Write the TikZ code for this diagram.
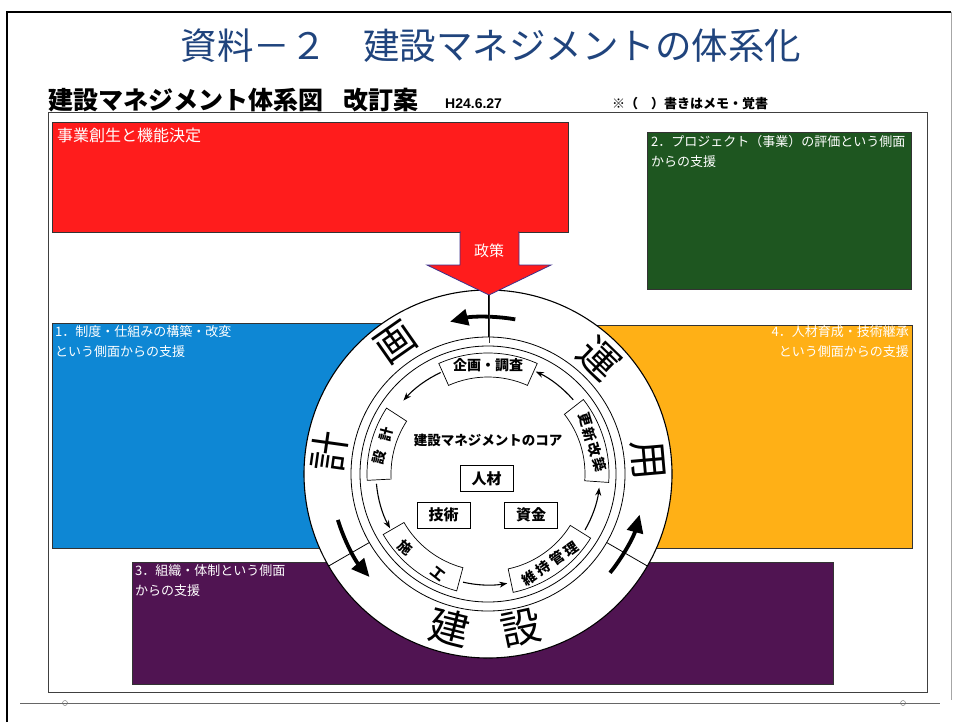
\documentclass[tikz,border=0pt]{standalone}
\usepackage{fontspec}
\setmainfont{Noto Sans CJK JP}
\newfontfamily\lat{Liberation Sans}
\usetikzlibrary{arrows.meta}
\definecolor{titleblue}{RGB}{32,68,125}
\definecolor{boxred}{RGB}{255,28,28}
\definecolor{boxgreen}{RGB}{30,86,32}
\definecolor{boxblue}{RGB}{14,135,212}
\definecolor{boxorange}{RGB}{255,176,22}
\definecolor{boxpurple}{RGB}{80,20,82}
\definecolor{arrowedge}{RGB}{60,50,140}
\tikzset{
  panel/.style={draw=black!80, line width=0.8pt},
  paneltext/.style={text=white, inner sep=0pt, align=left, font=\fontsize{13}{20.5}\selectfont},
  ringchar/.style={font=\fontsize{40}{40}\selectfont, inner sep=0pt},
  lbl/.style={font=\fontsize{14}{14}\selectfont\bfseries, inner sep=0pt},
  corebox/.style={draw, line width=0.8pt, minimum width=53pt, minimum height=26pt, inner sep=0pt, font=\fontsize{15}{15}\selectfont\bfseries},
  bigarrow/.style={line width=3.8pt, -{Triangle[length=18pt,width=16pt]}},
  smallarrow/.style={line width=1.1pt, -{Stealth[length=8pt,width=6pt]}},
}
\newcommand{\lblsector}[2]{%
  \draw[fill=white, line width=0.7pt] (#1:97) arc[start angle=#1,end angle=#2,radius=97] -- (#2:121) arc[start angle=#2,end angle=#1,radius=121] -- cycle;}
\begin{document}
\begin{tikzpicture}[x=1pt,y=-1pt]
\useasboundingbox (0,0) rectangle (957,722);
\fill[white] (0,0) rectangle (957,722);
% frames
\draw[line width=1.6pt] (7,722) -- (7,12) -- (951,12);
\draw[gray!70, line width=0.8pt] (951,12) -- (951,700);
\draw[black!75, line width=0.8pt] (48,112) rectangle (927,692);
\draw[gray!80!black, line width=0.8pt] (20,703) -- (940,703);
\draw[gray!80!black] (65,703) circle[radius=2.5];
\draw[gray!80!black] (903,703) circle[radius=2.5];
% title and headings
\node[text=titleblue, font=\fontsize{36.5}{36.5}\selectfont, inner sep=0pt] (title) at (491,46) {資料－２　建設マネジメントの体系化};
\node[anchor=west, font=\fontsize{25}{25}\selectfont\bfseries, inner sep=0pt] (head) at (48,100) {建設マネジメント体系図\hspace{20pt}改訂案};
\node[anchor=west, font=\lat\bfseries\fontsize{14}{14}\selectfont, inner sep=0pt] (date) at (445,104) {H24.6.27};
\node[anchor=west, font=\fontsize{13}{13}\selectfont\bfseries, inner sep=0pt] (memo) at (612,104) {※（　）書きはメモ・覚書};
% coloured panels
\fill[boxblue, panel] (52,323) rectangle (500,548);
\fill[boxorange, panel] (480,325) rectangle (912,548);
\fill[boxpurple, panel] (132,562) rectangle (833,684);
\fill[boxred, panel] (52,122) rectangle (568,232);
\fill[boxgreen, panel] (647,132) rectangle (911,289);
\node[anchor=north west, text=white, inner sep=0pt, font=\fontsize{16}{16}\selectfont] (redtxt) at (57,128) {事業創生と機能決定};
\node[anchor=north west, paneltext] (greentxt) at (651,135) {2．プロジェクト（事業）の評価という側面\\からの支援};
\node[anchor=north west, paneltext] (bluetxt) at (55,325) {1．制度・仕組みの構築・改変\\という側面からの支援};
\node[anchor=north east, paneltext, align=right] (orangetxt) at (909,325) {4．人材育成・技術継承\\という側面からの支援};
\node[anchor=north west, paneltext] (purpletxt) at (135,564) {3．組織・体制という側面\\からの支援};
% circle diagram
\begin{scope}[shift={(488,474)}, y=1pt]
  \filldraw[fill=white, draw=black, line width=1.1pt] (0,0) circle[radius=184];
  \draw[line width=0.8pt] (0,0) circle[radius=137];
  \draw[line width=0.8pt] (0,0) circle[radius=128];
  \foreach \a in {90,210,330} \draw[line width=0.8pt] (\a:137) -- (\a:184);
  % outer ring characters
  \node[ringchar, rotate=82] (kei) at (172:160) {計};
  \node[ringchar, rotate=35] (ga) at (125:160) {画};
  \node[ringchar, rotate=-44] (un) at (46:160) {運};
  \node[ringchar, rotate=-85] (you) at (5:160) {用};
  \node[ringchar, rotate=-14] (ken) at (256:158) {建};
  \node[ringchar, rotate=12] (setsu) at (282:158) {設};
  % outer arrows
  \draw[bigarrow] (80:157) arc[start angle=80,end angle=104,radius=157];
  \draw[bigarrow] (197:157) arc[start angle=197,end angle=221,radius=157];
  \draw[bigarrow] (321:157) arc[start angle=321,end angle=345,radius=157];
  % label sectors
  \lblsector{66}{114}
  \lblsector{147}{183}
  \lblsector{210}{255}
  \lblsector{282}{328}
  \lblsector{-4}{38}
  \node[lbl] (kikaku) at (90:109) {企画・調査};
  \node[lbl, rotate=75] (sekkei) at (165:109) {設\hspace{10pt}計};
  \node[lbl, rotate=-38] (sekou) at (232.5:109) {施\hspace{28pt}工};
  \node[lbl, rotate=35] (iji) at (305:109) {維\hspace{3pt}持\hspace{3pt}管\hspace{3pt}理};
  \node[lbl, rotate=-73] (koushin) at (17:109) {更\hspace{2pt}新\hspace{2pt}改\hspace{2pt}築};
  % inner arrows
  \draw[smallarrow] (115:112) arc[start angle=115,end angle=139,radius=112];
  \draw[smallarrow] (185:112) arc[start angle=185,end angle=209,radius=112];
  \draw[smallarrow] (257:111) arc[start angle=257,end angle=280,radius=111];
  \draw[smallarrow] (330:112) arc[start angle=330,end angle=353,radius=112];
  \draw[smallarrow] (41:113) arc[start angle=41,end angle=65,radius=113];
  % core
  \node[font=\fontsize{13.5}{13.5}\selectfont\bfseries, inner sep=0pt] (core) at (0,34) {建設マネジメントのコア};
  \node[corebox] (jinzai) at (-1.5,-4.5) {人材};
  \node[corebox] (gijutsu) at (-44.5,-41) {技術};
  \node[corebox] (shikin) at (43,-41) {資金};
\end{scope}
% policy arrow
\filldraw[fill=boxred, draw=arrowedge, line width=0.8pt] (460,232) -- (519,232) -- (519,265) -- (551,265) -- (489,295) -- (427,265) -- (460,265) -- cycle;
\draw[boxred, line width=1.2pt] (461,232) -- (518,232);
\draw[black!80, line width=0.8pt] (489,295) -- (489,343);
\node[text=white, font=\fontsize{15}{15}\selectfont, inner sep=0pt] (seisaku) at (489,251) {政策};
\end{tikzpicture}
\end{document}
